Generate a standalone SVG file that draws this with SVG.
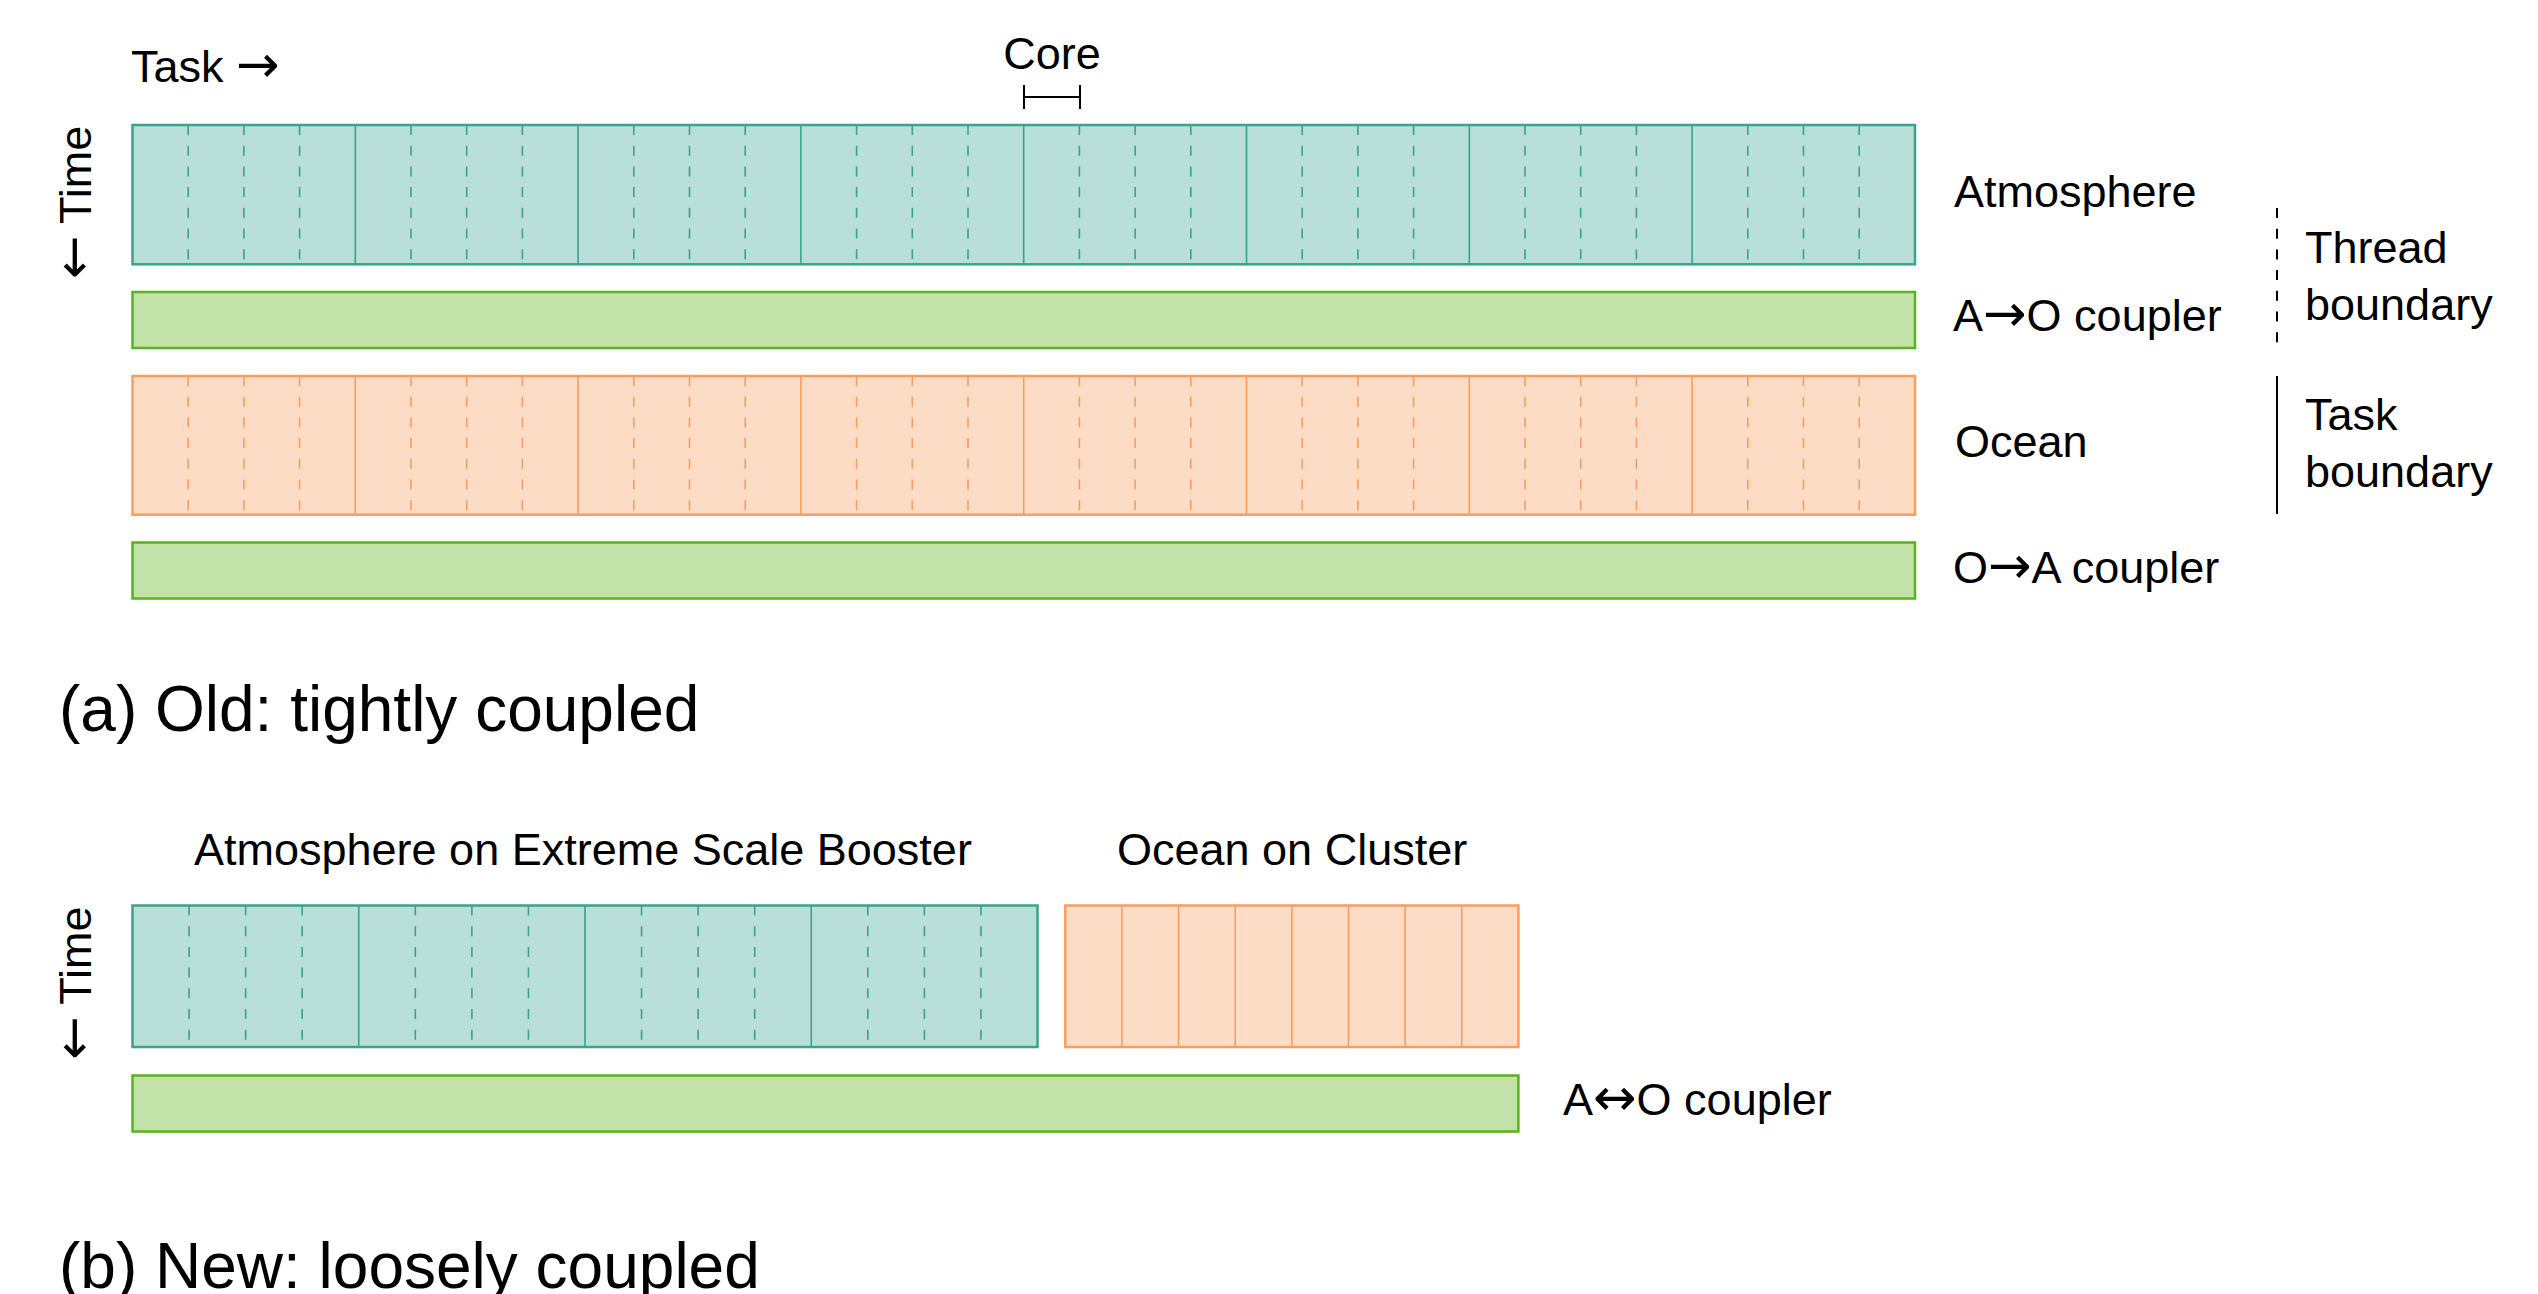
<svg xmlns="http://www.w3.org/2000/svg" width="2538" height="1294" viewBox="0 0 2538 1294">
<style>
text{font-family:"Liberation Sans",Arial,Helvetica,sans-serif;fill:#000}
.lbl{font-size:45px}
.cap{font-size:64px}
.arw{font-family:"DejaVu Sans",sans-serif;font-size:52px}
.atm{fill:#b9e0d8;stroke:#37a48b;stroke-width:2.5}
.atmIn{fill:none;stroke:#37a48b;stroke-width:1.6}
.oce{fill:#fddcc5;stroke:#fc9d5b;stroke-width:2.5}
.oceIn{fill:none;stroke:#fc9d5b;stroke-width:1.6}
.cpl{fill:#c3e2a9;stroke:#5ab221;stroke-width:2.5}
.dash{stroke-dasharray:10 10.7}
.blk{fill:none;stroke:#000;stroke-width:2}
</style>
<rect width="2538" height="1294" fill="#fff"/>

<!-- (a) -->
<g id="axis-a">
<text class="lbl" x="131" y="82">Task <tspan class="arw">→</tspan></text>
<text class="lbl" transform="translate(91,202.5) rotate(-90)" text-anchor="middle"><tspan class="arw">←</tspan> Time</text>
</g>
<g id="core-label">
<text class="lbl" x="1052" y="69" text-anchor="middle">Core</text>
</g>

<g id="atmosphere-a">
<rect class="atm" x="132.5" y="125" width="1782.5" height="139.3"/>
<path class="atmIn dash" d="M188.2,125V264.3M243.9,125V264.3M299.6,125V264.3M411,125V264.3M466.7,125V264.3M522.4,125V264.3M633.8,125V264.3M689.5,125V264.3M745.2,125V264.3M856.6,125V264.3M912.3,125V264.3M968,125V264.3M1079.4,125V264.3M1135.1,125V264.3M1190.8,125V264.3M1302.2,125V264.3M1357.9,125V264.3M1413.6,125V264.3M1525,125V264.3M1580.7,125V264.3M1636.4,125V264.3M1747.8,125V264.3M1803.5,125V264.3M1859.2,125V264.3"/>
<path class="atmIn" d="M355.3,125V264.3M578.1,125V264.3M800.9,125V264.3M1023.7,125V264.3M1246.5,125V264.3M1469.3,125V264.3M1692.1,125V264.3"/>
<text class="lbl" x="1954" y="207">Atmosphere</text>
</g>

<g id="ao-coupler">
<rect class="cpl" x="132.5" y="292" width="1782.5" height="56"/>
<text class="lbl" x="1953" y="331">A<tspan class="arw">→</tspan>O coupler</text>
</g>

<g id="ocean-a">
<rect class="oce" x="132.5" y="376" width="1782.5" height="138.7"/>
<path class="oceIn dash" d="M188.2,376V514.7M243.9,376V514.7M299.6,376V514.7M411,376V514.7M466.7,376V514.7M522.4,376V514.7M633.8,376V514.7M689.5,376V514.7M745.2,376V514.7M856.6,376V514.7M912.3,376V514.7M968,376V514.7M1079.4,376V514.7M1135.1,376V514.7M1190.8,376V514.7M1302.2,376V514.7M1357.9,376V514.7M1413.6,376V514.7M1525,376V514.7M1580.7,376V514.7M1636.4,376V514.7M1747.8,376V514.7M1803.5,376V514.7M1859.2,376V514.7"/>
<path class="oceIn" d="M355.3,376V514.7M578.1,376V514.7M800.9,376V514.7M1023.7,376V514.7M1246.5,376V514.7M1469.3,376V514.7M1692.1,376V514.7"/>
<text class="lbl" x="1955" y="457">Ocean</text>
</g>

<g id="oa-coupler">
<rect class="cpl" x="132.5" y="542.5" width="1782.5" height="56"/>
<text class="lbl" x="1953" y="583">O<tspan class="arw">→</tspan>A coupler</text>
</g>

<g id="thread-boundary">
<text class="lbl" x="2305" y="263">Thread</text>
<text class="lbl" x="2305" y="320">boundary</text>
</g>
<g id="task-boundary">
<text class="lbl" x="2305" y="430">Task</text>
<text class="lbl" x="2305" y="487">boundary</text>
</g>

<g id="caption-a">
<text class="cap" x="59" y="731">(a) Old: tightly coupled</text>
</g>

<!-- (b) -->
<g id="axis-b">
<text class="lbl" transform="translate(91,983.3) rotate(-90)" text-anchor="middle"><tspan class="arw">←</tspan> Time</text>
</g>

<g id="atmosphere-b">
<text class="lbl" x="194" y="865">Atmosphere on Extreme Scale Booster</text>
<rect class="atm" x="132.5" y="905.5" width="905" height="141.5"/>
<path class="atmIn dash" d="M189.06,905.5V1047M245.63,905.5V1047M302.19,905.5V1047M415.31,905.5V1047M471.88,905.5V1047M528.44,905.5V1047M641.56,905.5V1047M698.13,905.5V1047M754.69,905.5V1047M867.81,905.5V1047M924.38,905.5V1047M980.94,905.5V1047"/>
<path class="atmIn" d="M358.75,905.5V1047M585,905.5V1047M811.25,905.5V1047"/>
</g>

<g id="ocean-b">
<text class="lbl" x="1117" y="865">Ocean on Cluster</text>
<rect class="oce" x="1065.3" y="905.5" width="453.1" height="141.5"/>
<path class="oceIn" d="M1121.9,905.5V1047M1178.6,905.5V1047M1235.2,905.5V1047M1291.9,905.5V1047M1348.5,905.5V1047M1405.1,905.5V1047M1461.8,905.5V1047"/>
</g>

<g id="aio-coupler">
<rect class="cpl" x="132.5" y="1075.5" width="1385.9" height="56"/>
<text class="lbl" x="1563" y="1115">A<tspan class="arw">↔</tspan>O coupler</text>
</g>

<g id="caption-b">
<text class="cap" x="59" y="1288">(b) New: loosely coupled</text>
</g>

<g id="connectors">
<path class="blk" d="M1024,85V109M1080,85V109M1024,97H1080"/>
<path class="blk dash" d="M2277,208V345"/>
<path class="blk" d="M2277,376V514"/>
</g>
</svg>
